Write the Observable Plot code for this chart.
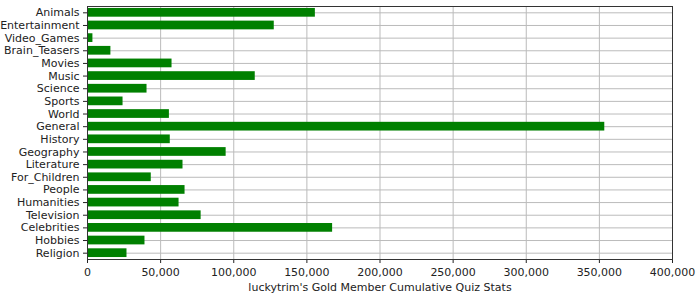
<!DOCTYPE html>
<html>
<head>
<meta charset="utf-8">
<script src="https://cdn.jsdelivr.net/npm/d3@7"></script>
<script src="https://cdn.jsdelivr.net/npm/@observablehq/plot@0.6"></script>
<style>
  html, body { margin: 0; padding: 0; background: #fff; }
  #chart svg { display: block; }
</style>
</head>
<body>
<div id="chart"></div>
<script>
const categories = ["Animals","Entertainment","Video_Games","Brain_Teasers","Movies","Music","Science","Sports","World","General","History","Geography","Literature","For_Children","People","Humanities","Television","Celebrities","Hobbies","Religion"];
const values = [155800,127700,3700,16000,57800,114700,40700,24300,56000,353700,56600,94800,65300,43600,66700,62600,77700,167600,39300,27000];
const xTicks = [0,50000,100000,150000,200000,250000,300000,350000,400000];
const title = "luckytrim's Gold Member Cumulative Quiz Stats";

const data = categories.map((c, i) => ({category: c, value: values[i]}));
const fmt = d3.format(",");

const chart = Plot.plot({
  width: 700,
  height: 300,
  marginLeft: 87,
  marginRight: 28,
  marginTop: 6,
  marginBottom: 41,
  style: {fontFamily: "DejaVu Sans", fontSize: "11px", color: "#222", background: "#fff"},
  x: {domain: [0, 400000], ticks: xTicks, tickFormat: fmt, label: title},
  y: {domain: categories, paddingInner: 0.31, paddingOuter: 0.155, round: false, label: null},
  marks: [
    Plot.gridX(xTicks, {stroke: "#bbbbbb", strokeOpacity: 1}),
    Plot.gridY(categories, {stroke: "#bbbbbb", strokeOpacity: 1}),
    Plot.barX(data, {x: "value", y: "category", fill: "#008000"}),
    Plot.axisX({ticks: xTicks, tickFormat: fmt, tickSize: 4, tickPadding: 5, label: title, labelAnchor: "center", labelArrow: "none", labelOffset: 31}),
    Plot.axisY({tickSize: 4, tickPadding: 4}),
    Plot.frame({stroke: "#333", strokeWidth: 1})
  ]
});
document.getElementById("chart").appendChild(chart);
</script>
</body>
</html>
